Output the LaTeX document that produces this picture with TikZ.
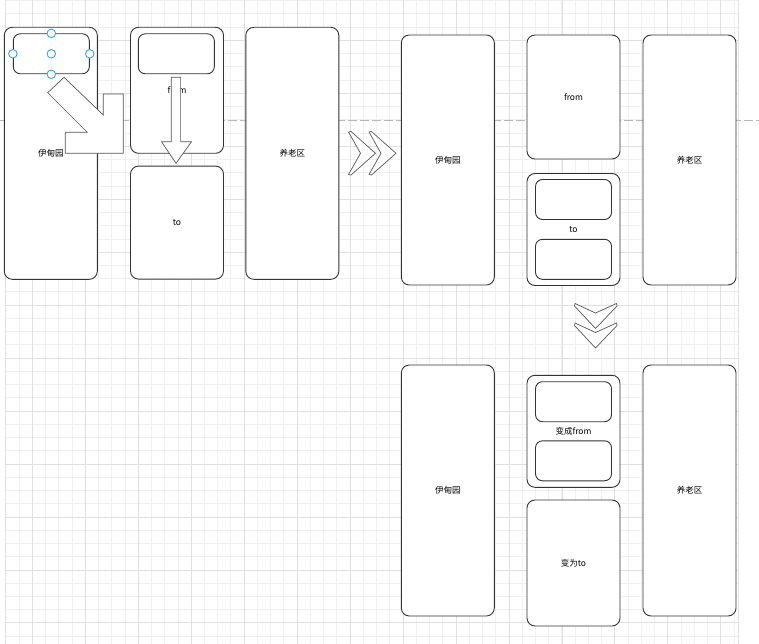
\documentclass[tikz,border=0pt]{standalone}
\usepackage{fontspec}
\setmainfont{Noto Sans CJK SC}
\usepackage{tikz}
\usetikzlibrary{positioning}

\definecolor{linec}{HTML}{333333}
\definecolor{arrowc}{HTML}{555555}
\definecolor{gridmin}{HTML}{F0F0F0}
\definecolor{gridmaj}{HTML}{E0E0E0}
\definecolor{pagec}{HTML}{B8B8B8}
\definecolor{handlec}{HTML}{3AA1F0}

\begin{document}
\begin{tikzpicture}[
    x=1pt, y=-1pt,
    card/.style={
        rectangle, draw=linec, line width=0.9pt, rounded corners=8pt,
        fill=white, inner sep=0pt, minimum width=93,
        font=\fontsize{8.5}{10}\selectfont
    },
    slot/.style={card, minimum width=76, minimum height=40, rounded corners=7pt},
    blockarrow/.style={draw=arrowc, line width=0.7pt, fill=white, line join=miter},
    chev/.style={draw=arrowc, line width=0.7pt, fill=white, line join=round},
    handle/.style={circle, draw=handlec, line width=0.9pt, fill=white, inner sep=0pt, minimum size=8.5}
]
    \useasboundingbox (0,0) rectangle (759,644);
    \fill[white] (0,0) rectangle (759,644);

    % Grid
    \foreach \i in {0,...,55}
        \draw[gridmin, line width=0.6pt] ({5.7+13.24*\i},0) -- ({5.7+13.24*\i},644);
    \foreach \i in {0,...,48}
        \draw[gridmin, line width=0.6pt] (5.7,{0.5+13.24*\i}) -- (738,{0.5+13.24*\i});
    \foreach \i in {0,...,13}
        \draw[gridmaj, line width=0.6pt] ({32.2+52.96*\i},0) -- ({32.2+52.96*\i},644);
    \foreach \i in {0,...,11}
        \draw[gridmaj, line width=0.6pt] (5.7,{40.2+52.96*\i}) -- (738,{40.2+52.96*\i});
    \draw[gridmaj, line width=0.6pt] (5.7,0) -- (5.7,644);
    \draw[gridmaj, line width=0.6pt] (738,0) -- (738,644);
    \draw[pagec, line width=0.7pt, dash pattern=on 9pt off 3pt] (0,120) -- (759,120);

    % Nodes - first sketch
    \node[card, minimum height=252] (edenA) at (50.8,153.3) {伊甸园};
    \node[slot] (slotA) at (51.3,53.8) {};
    \node[card, minimum height=126] (fromA) at (177,90.3) {from};
    \node[slot] (slotB) at (176.3,53.8) {};
    \node[card, minimum height=113] (toA) at (177,222.6) {to};
    \node[card, minimum height=252] (oldA) at (292.3,153.3) {养老区};

    % Nodes - second sketch
    \node[card, minimum height=250] (edenB) at (447.8,160) {伊甸园};
    \node[card, minimum height=124] (fromB) at (573.5,97) {from};
    \node[card, minimum height=112] (toB) at (573.5,229.5) {to};
    \node[slot] (toBup) at (573.5,199.5) {};
    \node[slot] (toBdn) at (573.5,259.3) {};
    \node[card, minimum height=250] (oldB) at (689.5,160) {养老区};

    % Nodes - result
    \node[card, minimum height=251] (edenC) at (447.8,490.5) {伊甸园};
    \node[card, minimum height=112] (fromC) at (573.5,431.3) {变成from};
    \node[slot] (fromCup) at (573.5,401.7) {};
    \node[slot] (fromCdn) at (573.5,460.8) {};
    \node[card, minimum height=126] (toC) at (573.5,563) {变为to};
    \node[card, minimum height=251] (oldC) at (689.5,490.5) {养老区};

    % Moves
    \draw[blockarrow] (47.7,92.7) -- (64,77.3) -- (103.3,115) -- (103.3,94) -- (123.3,94)
        -- (123.3,153.3) -- (65.3,153.3) -- (65.3,132.3) -- (87.3,132.3) -- cycle;
    \draw[blockarrow] (171.2,77.3) -- (180.6,77.3) -- (180.6,141.7) -- (191.5,141.7)
        -- (176,163.3) -- (161.5,141.7) -- (171.2,141.7) -- cycle;

    % Chevrons
    \foreach \dx in {0,20.5}
        \draw[chev] ({348.5+\dx},132) -- ({351+\dx},131.5) -- ({375.5+\dx},153.3)
            -- ({351+\dx},175) -- ({348.5+\dx},174.5) -- ({360.5+\dx},153.3) -- cycle;
    \foreach \dy in {0,19.5}
        \draw[chev] (575,{303.5+\dy}) -- (595.5,{313+\dy}) -- (616.5,{303.5+\dy})
            -- (617,{306+\dy}) -- (595.5,{328.5+\dy}) -- (574.5,{306+\dy}) -- cycle;

    % Selection handles
    \node[handle] at (slotA.west) {};
    \node[handle] at (slotA.east) {};
    \node[handle] at (slotA.north) {};
    \node[handle] at (slotA.south) {};
    \node[handle] at (slotA.center) {};
\end{tikzpicture}
\end{document}
